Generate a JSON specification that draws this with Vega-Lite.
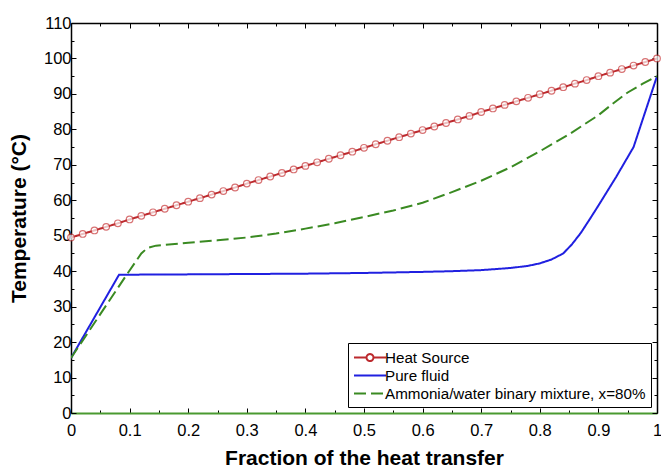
{
  "$schema": "https://vega.github.io/schema/vega-lite/v6.json",
  "width": 586,
  "height": 390,
  "autosize": "none",
  "padding": {"left": 71, "top": 23, "right": 4, "bottom": 56},
  "config": {
    "font": "Liberation Sans",
    "view": {"stroke": null},
    "axis": {
      "grid": false,
      "domainColor": "black",
      "domainWidth": 1.5,
      "tickColor": "black",
      "tickWidth": 1,
      "labelFont": "Liberation Sans",
      "labelFontSize": 16.5,
      "labelColor": "black",
      "labelOverlap": false,
      "labelFlush": false,
      "labelBound": false,
      "titleFont": "Liberation Sans",
      "titleFontSize": 21,
      "titleFontWeight": "bold",
      "titleColor": "black"
    }
  },
  "data": {
    "values": [
      {"series": "Heat Source", "x": 0.00, "t": 49.5},
      {"series": "Heat Source", "x": 0.02, "t": 50.5},
      {"series": "Heat Source", "x": 0.04, "t": 51.5},
      {"series": "Heat Source", "x": 0.06, "t": 52.5},
      {"series": "Heat Source", "x": 0.08, "t": 53.5},
      {"series": "Heat Source", "x": 0.10, "t": 54.6},
      {"series": "Heat Source", "x": 0.12, "t": 55.6},
      {"series": "Heat Source", "x": 0.14, "t": 56.6},
      {"series": "Heat Source", "x": 0.16, "t": 57.6},
      {"series": "Heat Source", "x": 0.18, "t": 58.6},
      {"series": "Heat Source", "x": 0.20, "t": 59.6},
      {"series": "Heat Source", "x": 0.22, "t": 60.6},
      {"series": "Heat Source", "x": 0.24, "t": 61.6},
      {"series": "Heat Source", "x": 0.26, "t": 62.6},
      {"series": "Heat Source", "x": 0.28, "t": 63.6},
      {"series": "Heat Source", "x": 0.30, "t": 64.7},
      {"series": "Heat Source", "x": 0.32, "t": 65.7},
      {"series": "Heat Source", "x": 0.34, "t": 66.7},
      {"series": "Heat Source", "x": 0.36, "t": 67.7},
      {"series": "Heat Source", "x": 0.38, "t": 68.7},
      {"series": "Heat Source", "x": 0.40, "t": 69.7},
      {"series": "Heat Source", "x": 0.42, "t": 70.7},
      {"series": "Heat Source", "x": 0.44, "t": 71.7},
      {"series": "Heat Source", "x": 0.46, "t": 72.7},
      {"series": "Heat Source", "x": 0.48, "t": 73.7},
      {"series": "Heat Source", "x": 0.50, "t": 74.8},
      {"series": "Heat Source", "x": 0.52, "t": 75.8},
      {"series": "Heat Source", "x": 0.54, "t": 76.8},
      {"series": "Heat Source", "x": 0.56, "t": 77.8},
      {"series": "Heat Source", "x": 0.58, "t": 78.8},
      {"series": "Heat Source", "x": 0.60, "t": 79.8},
      {"series": "Heat Source", "x": 0.62, "t": 80.8},
      {"series": "Heat Source", "x": 0.64, "t": 81.8},
      {"series": "Heat Source", "x": 0.66, "t": 82.8},
      {"series": "Heat Source", "x": 0.68, "t": 83.8},
      {"series": "Heat Source", "x": 0.70, "t": 84.9},
      {"series": "Heat Source", "x": 0.72, "t": 85.9},
      {"series": "Heat Source", "x": 0.74, "t": 86.9},
      {"series": "Heat Source", "x": 0.76, "t": 87.9},
      {"series": "Heat Source", "x": 0.78, "t": 88.9},
      {"series": "Heat Source", "x": 0.80, "t": 89.9},
      {"series": "Heat Source", "x": 0.82, "t": 90.9},
      {"series": "Heat Source", "x": 0.84, "t": 91.9},
      {"series": "Heat Source", "x": 0.86, "t": 92.9},
      {"series": "Heat Source", "x": 0.88, "t": 93.9},
      {"series": "Heat Source", "x": 0.90, "t": 95.0},
      {"series": "Heat Source", "x": 0.92, "t": 96.0},
      {"series": "Heat Source", "x": 0.94, "t": 97.0},
      {"series": "Heat Source", "x": 0.96, "t": 98.0},
      {"series": "Heat Source", "x": 0.98, "t": 99.0},
      {"series": "Heat Source", "x": 1.00, "t": 100.0},
      {"series": "Pure fluid", "x": 0.000, "t": 15.5},
      {"series": "Pure fluid", "x": 0.082, "t": 39.0},
      {"series": "Pure fluid", "x": 0.200, "t": 39.1},
      {"series": "Pure fluid", "x": 0.300, "t": 39.2},
      {"series": "Pure fluid", "x": 0.400, "t": 39.3},
      {"series": "Pure fluid", "x": 0.500, "t": 39.5},
      {"series": "Pure fluid", "x": 0.600, "t": 39.8},
      {"series": "Pure fluid", "x": 0.650, "t": 40.0},
      {"series": "Pure fluid", "x": 0.700, "t": 40.3},
      {"series": "Pure fluid", "x": 0.750, "t": 40.9},
      {"series": "Pure fluid", "x": 0.780, "t": 41.5},
      {"series": "Pure fluid", "x": 0.800, "t": 42.2},
      {"series": "Pure fluid", "x": 0.820, "t": 43.3},
      {"series": "Pure fluid", "x": 0.840, "t": 45.0},
      {"series": "Pure fluid", "x": 0.855, "t": 47.6},
      {"series": "Pure fluid", "x": 0.870, "t": 50.8},
      {"series": "Pure fluid", "x": 0.885, "t": 54.6},
      {"series": "Pure fluid", "x": 0.900, "t": 58.5},
      {"series": "Pure fluid", "x": 0.930, "t": 66.5},
      {"series": "Pure fluid", "x": 0.960, "t": 75.0},
      {"series": "Pure fluid", "x": 1.000, "t": 95.0},
      {"series": "Ammonia/water binary mixture, x=80%", "x": 0.000, "t": 15.5},
      {"series": "Ammonia/water binary mixture, x=80%", "x": 0.095, "t": 39.0},
      {"series": "Ammonia/water binary mixture, x=80%", "x": 0.120, "t": 45.0},
      {"series": "Ammonia/water binary mixture, x=80%", "x": 0.130, "t": 46.5},
      {"series": "Ammonia/water binary mixture, x=80%", "x": 0.145, "t": 47.2},
      {"series": "Ammonia/water binary mixture, x=80%", "x": 0.200, "t": 48.0},
      {"series": "Ammonia/water binary mixture, x=80%", "x": 0.250, "t": 48.7},
      {"series": "Ammonia/water binary mixture, x=80%", "x": 0.300, "t": 49.5},
      {"series": "Ammonia/water binary mixture, x=80%", "x": 0.350, "t": 50.6},
      {"series": "Ammonia/water binary mixture, x=80%", "x": 0.400, "t": 52.0},
      {"series": "Ammonia/water binary mixture, x=80%", "x": 0.450, "t": 53.5},
      {"series": "Ammonia/water binary mixture, x=80%", "x": 0.500, "t": 55.3},
      {"series": "Ammonia/water binary mixture, x=80%", "x": 0.550, "t": 57.1},
      {"series": "Ammonia/water binary mixture, x=80%", "x": 0.600, "t": 59.3},
      {"series": "Ammonia/water binary mixture, x=80%", "x": 0.650, "t": 62.3},
      {"series": "Ammonia/water binary mixture, x=80%", "x": 0.700, "t": 65.5},
      {"series": "Ammonia/water binary mixture, x=80%", "x": 0.750, "t": 69.3},
      {"series": "Ammonia/water binary mixture, x=80%", "x": 0.800, "t": 73.8},
      {"series": "Ammonia/water binary mixture, x=80%", "x": 0.850, "t": 78.6},
      {"series": "Ammonia/water binary mixture, x=80%", "x": 0.900, "t": 84.0},
      {"series": "Ammonia/water binary mixture, x=80%", "x": 0.925, "t": 87.3},
      {"series": "Ammonia/water binary mixture, x=80%", "x": 0.950, "t": 90.4},
      {"series": "Ammonia/water binary mixture, x=80%", "x": 0.975, "t": 92.8},
      {"series": "Ammonia/water binary mixture, x=80%", "x": 1.000, "t": 95.0}
    ]
  },
  "layer": [
    {
      "mark": {"type": "line", "strokeWidth": 2, "clip": true},
      "encoding": {
        "x": {
          "field": "x", "type": "quantitative",
          "scale": {"domain": [0, 1], "nice": false, "zero": false},
          "axis": {
            "orient": "bottom",
            "title": "Fraction of the heat transfer",
            "values": [0, 0.05, 0.1, 0.15, 0.2, 0.25, 0.3, 0.35, 0.4, 0.45, 0.5, 0.55, 0.6, 0.65, 0.7, 0.75, 0.8, 0.85, 0.9, 0.95, 1],
            "labelExpr": "round(datum.value*20) % 2 === 0 ? (datum.value === 0 ? '0' : datum.value === 1 ? '1' : format(datum.value, '.1f')) : ''",
            "tickSize": {"condition": {"test": "round(datum.value*20) % 2 === 0", "value": -5}, "value": -3},
            "labelPadding": 14,
            "titlePadding": 7,
            "domainColor": "#4a9a30",
            "domainWidth": 2
          }
        },
        "y": {
          "field": "t", "type": "quantitative",
          "scale": {"domain": [0, 110], "nice": false, "zero": false},
          "axis": {
            "orient": "left",
            "title": "Temperature (°C)",
            "values": [0, 5, 10, 15, 20, 25, 30, 35, 40, 45, 50, 55, 60, 65, 70, 75, 80, 85, 90, 95, 100, 105, 110],
            "labelExpr": "datum.value % 10 === 0 ? datum.label : ''",
            "tickSize": {"condition": {"test": "datum.value % 10 === 0", "value": -5}, "value": -3},
            "labelPadding": 5,
            "titlePadding": 14
          }
        },
        "color": {
          "field": "series", "type": "nominal",
          "scale": {
            "domain": ["Heat Source", "Pure fluid", "Ammonia/water binary mixture, x=80%"],
            "range": ["#bc2a2e", "#2020e0", "#3a8a22"]
          },
          "legend": {
            "orient": "none",
            "legendX": 277,
            "legendY": 320,
            "title": null,
            "strokeColor": "black",
            "fillColor": "white",
            "padding": 5,
            "cornerRadius": 0,
            "symbolSize": 289,
            "symbolType": "M-1,0L2.765,0",
            "symbolStrokeWidth": 2,
            "labelFont": "Liberation Sans",
            "labelFontSize": 15.2,
            "labelColor": "black",
            "labelOffset": 13,
            "labelLimit": 400,
            "rowPadding": 0,
            "encode": {
              "symbols": {
                "update": {
                  "shape": [
                    {"test": "datum.value === 'Heat Source'", "value": "M-1,0L0.4725,0M1.2925,0L2.765,0M1.2925,0A0.41,0.41,0,1,1,0.4725,0A0.41,0.41,0,1,1,1.2925,0"},
                    {"value": "M-1,0L2.765,0"}
                  ],
                  "fill": {"value": "white"}
                }
              }
            }
          }
        },
        "strokeDash": {
          "field": "series", "type": "nominal",
          "scale": {
            "domain": ["Heat Source", "Pure fluid", "Ammonia/water binary mixture, x=80%"],
            "range": [[1, 0], [1, 0], [12, 5]]
          },
          "legend": null
        }
      }
    },
    {
      "transform": [{"filter": "datum.series === 'Heat Source'"}],
      "mark": {"type": "point", "shape": "circle", "filled": true, "fill": "white", "stroke": "#c8383a", "strokeWidth": 1.2, "size": 44},
      "encoding": {
        "x": {
          "field": "x", "type": "quantitative",
          "axis": {
            "orient": "top",
            "title": null,
            "labels": false,
            "values": [0, 0.05, 0.1, 0.15, 0.2, 0.25, 0.3, 0.35, 0.4, 0.45, 0.5, 0.55, 0.6, 0.65, 0.7, 0.75, 0.8, 0.85, 0.9, 0.95, 1],
            "tickSize": {"condition": {"test": "round(datum.value*20) % 2 === 0", "value": -5}, "value": -3}
          }
        },
        "y": {
          "field": "t", "type": "quantitative",
          "axis": {
            "orient": "right",
            "title": null,
            "labels": false,
            "values": [0, 5, 10, 15, 20, 25, 30, 35, 40, 45, 50, 55, 60, 65, 70, 75, 80, 85, 90, 95, 100, 105, 110],
            "tickSize": {"condition": {"test": "datum.value % 10 === 0", "value": -5}, "value": -3}
          }
        }
      }
    }
  ],
  "resolve": {"axis": {"x": "independent", "y": "independent"}}
}
